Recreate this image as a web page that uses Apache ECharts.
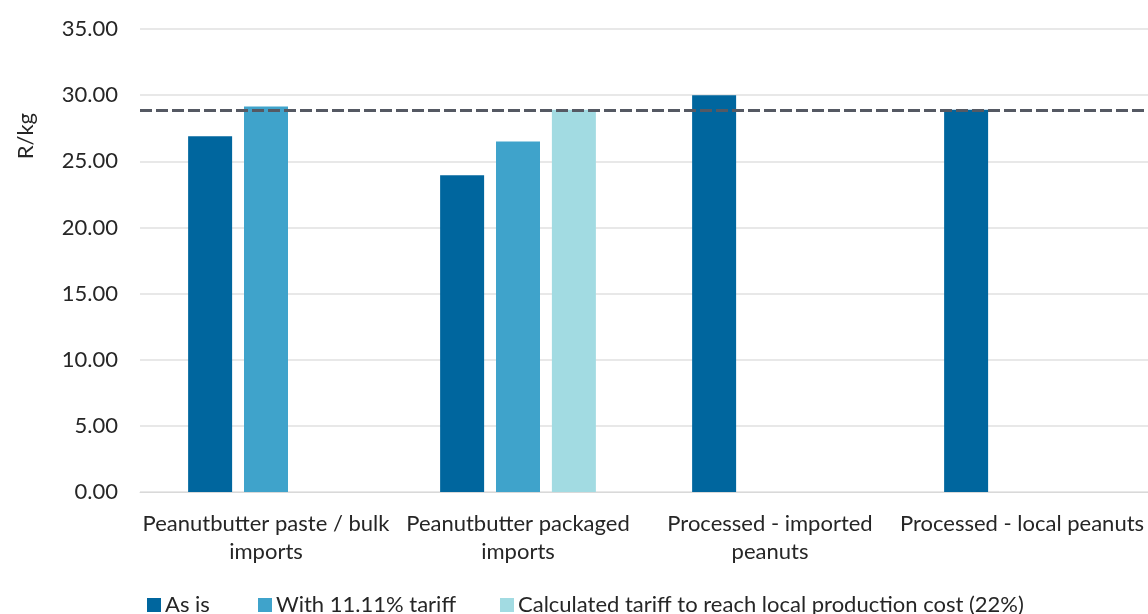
<!DOCTYPE html>
<html>
<head>
<meta charset="utf-8">
<script src="https://cdn.jsdelivr.net/npm/echarts@6/dist/echarts.min.js"></script>
<style>html,body{margin:0;padding:0;background:#fff;}#c{width:1148px;height:614px;}</style>
</head>
<body>
<div id="c"></div>
<script>
const categories = ["Peanutbutter paste / bulk\nimports", "Peanutbutter packaged\nimports", "Processed - imported\npeanuts", "Processed - local peanuts"];
const seriesNames = ["As is", "With 11.11% tariff", "Calculated tariff to reach local production cost (22%)"];
const asIs = [26.9, 23.95, 30.0, 28.9];
const withTariff = [29.15, 26.5, null, null];
const calcTariff = [null, 28.9, null, null];
const localCostLine = [28.85];
const yTicks = [0, 5, 10, 15, 20, 25, 30, 35];

const FONT = 'Lato';
const FS = 22;
const colors = ['#00669E', '#3FA3CB', '#A2DBE2'];

const chart = echarts.init(document.getElementById('c'), null, {renderer: 'canvas'});
const legendLefts = [147, 258, 500];
chart.setOption({
  animation: false,
  textStyle: {fontFamily: FONT},
  grid: {left: 140, right: 0, top: 29, bottom: 122, containLabel: false},
  legend: seriesNames.map((n, i) => ({
    data: [n], left: legendLefts[i], top: 594, padding: 0, itemWidth: 14, itemHeight: 14, itemGap: 0,
    icon: 'rect', textStyle: {fontFamily: FONT, fontSize: FS, color: '#262626', padding: [0,0,0,-1]}
  })),
  graphic: [{
    type: 'text', left: 15, top: 113, rotation: Math.PI / 2,
    style: {text: 'R/kg', font: FS + 'px ' + FONT, fill: '#262626'}
  }],
  xAxis: {
    type: 'category', data: categories,
    axisTick: {show: false},
    axisLine: {lineStyle: {color: '#d9d9d9', width: 1}},
    axisLabel: {fontFamily: FONT, fontSize: FS, color: '#262626', lineHeight: 28, margin: 18, interval: 0}
  },
  yAxis: {
    type: 'value', min: yTicks[0], max: yTicks[yTicks.length - 1], interval: 5,
    axisLine: {show: false}, axisTick: {show: false},
    splitLine: {lineStyle: {color: '#e0e0e0', width: 1.5}},
    axisLabel: {fontFamily: FONT, fontSize: FS, color: '#262626', margin: 22, formatter: v => v.toFixed(2)}
  },
  series: [
    {name: seriesNames[0], type: 'bar', data: asIs, barWidth: 44, barGap: '27%', itemStyle: {color: colors[0]},
     markLine: {silent: true, symbol: 'none', label: {show: false},
       lineStyle: {type: [12, 4], width: 3, color: '#555963'},
       data: [{yAxis: localCostLine[0]}]}},
    {name: seriesNames[1], type: 'bar', data: withTariff, barWidth: 44, barGap: '27%', itemStyle: {color: colors[1]}},
    {name: seriesNames[2], type: 'bar', data: calcTariff, barWidth: 44, barGap: '27%', itemStyle: {color: colors[2]}}
  ]
});
</script>
</body>
</html>
